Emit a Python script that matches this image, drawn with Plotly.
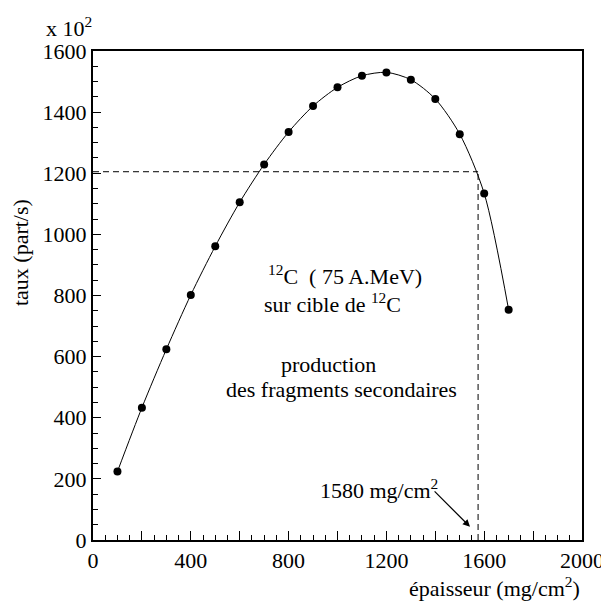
import plotly.graph_objects as go

# Data
thickness = [100, 200, 300, 400, 500, 600, 700, 800, 900, 1000, 1100, 1200,
             1300, 1400, 1500, 1600, 1700]
rate = [224, 433, 624, 802, 961, 1105, 1229, 1335, 1420, 1481, 1519, 1530,
        1506, 1443, 1328, 1134, 753]

thresh_x = 1575
thresh_y = 1205

x_tickvals = [0, 200, 400, 600, 800, 1000, 1200, 1400, 1600, 1800, 2000]
x_ticktext = ["0", "", "400", "", "800", "", "1200", "", "1600", "", "2000"]
y_tickvals = [0, 200, 400, 600, 800, 1000, 1200, 1400, 1600]
y_ticktext = ["0", "200", "400", "600", "800", "1000", "1200", "1400", "1600"]

FONT = "Liberation Serif, Times New Roman, serif"
FS = 22

fig = go.Figure()

fig.add_trace(go.Scatter(
    x=thickness, y=rate, mode="lines+markers",
    line=dict(color="black", width=1, shape="spline", smoothing=0.8),
    marker=dict(color="black", size=8),
    showlegend=False, cliponaxis=False,
))

# dashed guide lines
fig.add_shape(type="line", xref="x", yref="y", x0=0, x1=thresh_x,
              y0=thresh_y, y1=thresh_y,
              line=dict(color="black", width=1, dash="6px,4px"))
fig.add_shape(type="line", xref="x", yref="y", x0=thresh_x, x1=thresh_x,
              y0=0, y1=thresh_y,
              line=dict(color="black", width=1, dash="6px,4px"))

ann_font = dict(family=FONT, size=FS, color="black")
fig.add_annotation(x=1030, y=867, xref="x", yref="y", showarrow=False,
                   text="<sup>12</sup>C  ( 75 A.MeV)", font=ann_font)
fig.add_annotation(x=981, y=776, xref="x", yref="y", showarrow=False,
                   text="sur cible de <sup>12</sup>C", font=ann_font)
fig.add_annotation(x=965, y=573, xref="x", yref="y", showarrow=False,
                   text="production", font=ann_font)
fig.add_annotation(x=1016, y=491, xref="x", yref="y", showarrow=False,
                   text="des fragments secondaires", font=ann_font)
fig.add_annotation(x=1170, y=168, xref="x", yref="y", showarrow=False,
                   text="1580 mg/cm<sup>2</sup>", font=ann_font)
# arrow
fig.add_annotation(x=1542, y=43, ax=1391, ay=164, xref="x", yref="y",
                   axref="x", ayref="y", text="", showarrow=True,
                   arrowhead=2, arrowsize=1.2, arrowwidth=1.2,
                   arrowcolor="black")

# axis titles / multiplier
fig.add_annotation(x=-0.147, y=0.587, xref="paper", yref="paper",
                   xanchor="center", yanchor="middle",
                   showarrow=False, textangle=-90,
                   text="taux (part/s)", font=ann_font)
fig.add_annotation(x=1.0, y=-0.096, xref="paper", yref="paper",
                   xanchor="right", yanchor="middle", showarrow=False,
                   text="épaisseur (mg/cm<sup>2</sup>)", font=ann_font)
fig.add_annotation(x=-0.1, y=1.017, xref="paper", yref="paper",
                   xanchor="left", yanchor="bottom", showarrow=False,
                   text="x 10<sup>2</sup>", font=ann_font)

axis_common = dict(
    showgrid=False, zeroline=False, showline=True, linecolor="black",
    linewidth=2, mirror=True, ticks="inside", tickcolor="black",
    automargin=False,
    tickfont=dict(family=FONT, size=FS, color="black"),
)

fig.update_xaxes(range=[0, 2000], tickmode="array", tickvals=x_tickvals,
                 ticktext=x_ticktext, ticklen=9, tickwidth=1,
                 minor=dict(dtick=50, ticks="inside", ticklen=5,
                            tickcolor="black", tickwidth=1),
                 **axis_common)
fig.update_yaxes(range=[0, 1600], tickmode="array", tickvals=y_tickvals,
                 ticktext=y_ticktext, ticklen=8, tickwidth=1,
                 minor=dict(dtick=50, ticks="inside", ticklen=5,
                            tickcolor="black", tickwidth=1),
                 **axis_common)

fig.update_layout(
    width=601, height=597,
    margin=dict(l=85, r=27, t=43, b=65),
    plot_bgcolor="white", paper_bgcolor="white",
    font=dict(family=FONT, size=FS, color="black"),
)

fig.write_html("out.html")
